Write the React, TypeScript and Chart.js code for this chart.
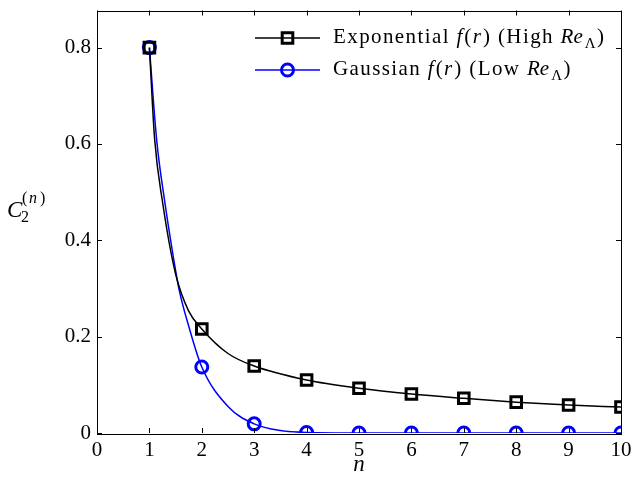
import React, { useEffect, useRef } from 'react';
import { Chart, registerables } from 'chart.js';

Chart.register(...registerables);

// ---- data ----
// markers (integer n)
const nValues = [1, 2, 3, 4, 5, 6, 7, 8, 9, 10];
const exponentialValues = [0.8, 0.216, 0.139, 0.11, 0.093, 0.081, 0.072, 0.064, 0.058, 0.054];
const gaussianValues = [0.8, 0.137, 0.019, 0.001, 0, 0, 0, 0, 0, 0];
// continuous curves
const expCurveN = [1, 1.1, 1.25, 1.5, 1.75, 2, 2.5, 3, 4, 5, 6, 7, 8, 9, 10];
const expCurveV = [0.8, 0.61, 0.48, 0.33, 0.253, 0.216, 0.165, 0.139, 0.11, 0.093, 0.081, 0.072, 0.064, 0.058, 0.054];
const gaussCurveN = [1, 1.14, 1.3, 1.45, 1.57, 1.75, 2, 2.5, 3, 3.5, 4, 5, 6, 7, 8, 9, 10];
const gaussCurveV = [0.8, 0.607, 0.475, 0.37, 0.296, 0.222, 0.137, 0.055, 0.019, 0.005, 0.001, 0, 0, 0, 0, 0, 0];

const xTicks = [0, 1, 2, 3, 4, 5, 6, 7, 8, 9, 10];
const yTicks = [0, 0.2, 0.4, 0.6, 0.8];
const yTickLabels = ['0', '0.2', '0.4', '0.6', '0.8'];
const xAxisTitle = 'n';

type Seg = { t: string; it?: boolean; sub?: boolean };
const legendExponential: Seg[] = [
  { t: 'Exponential ' }, { t: 'f', it: true }, { t: '(' }, { t: 'r', it: true }, { t: ') (High ' },
  { t: 'Re', it: true }, { t: 'Λ', sub: true }, { t: ')' },
];
const legendGaussian: Seg[] = [
  { t: 'Gaussian ' }, { t: 'f', it: true }, { t: '(' }, { t: 'r', it: true }, { t: ') (Low ' },
  { t: 'Re', it: true }, { t: 'Λ', sub: true }, { t: ')' },
];

const FONT = "'Liberation Serif', 'Times New Roman', serif";
const BLUE = '#0000ff';
const LEG_SIZE = 21;
const LEG_SPACING = 1.4;

function drawSegs(ctx: CanvasRenderingContext2D, segs: Seg[], x: number, y: number, size: number) {
  let cx = x;
  for (const s of segs) {
    (ctx as any).letterSpacing = s.it ? '0px' : `${LEG_SPACING}px`;
    if (s.sub) {
      ctx.font = `${Math.round(size * 0.72)}px ${FONT}`;
      ctx.fillText(s.t, cx, y + size * 0.22);
    } else {
      ctx.font = `${s.it ? 'italic ' : ''}${size}px ${FONT}`;
      ctx.fillText(s.t, cx, y);
    }
    cx += ctx.measureText(s.t).width + (s.it ? 2 : 0);
  }
  (ctx as any).letterSpacing = '0px';
}

const framePlugin = {
  id: 'frame',
  afterDraw(chart: any) {
    const ctx: CanvasRenderingContext2D = chart.ctx;
    const a = chart.chartArea;
    const xs = chart.scales.x;
    const ys = chart.scales.y;
    ctx.save();
    ctx.strokeStyle = '#000';
    ctx.lineWidth = 1;
    ctx.strokeRect(Math.round(a.left) + 0.5, Math.round(a.top) + 0.5, Math.round(a.right - a.left), Math.round(a.bottom - a.top));
    const tl = 5;
    ctx.beginPath();
    for (const v of xTicks) {
      const px = Math.round(xs.getPixelForValue(v)) + 0.5;
      ctx.moveTo(px, a.bottom); ctx.lineTo(px, a.bottom - tl);
      ctx.moveTo(px, a.top); ctx.lineTo(px, a.top + tl);
    }
    for (const v of yTicks) {
      const py = Math.round(ys.getPixelForValue(v)) + 0.5;
      ctx.moveTo(a.left, py); ctx.lineTo(a.left + tl, py);
      ctx.moveTo(a.right, py); ctx.lineTo(a.right - tl, py);
    }
    ctx.stroke();

    // axis titles
    ctx.fillStyle = '#000';
    ctx.textBaseline = 'alphabetic';
    ctx.textAlign = 'center';
    ctx.font = `italic 23px ${FONT}`;
    ctx.fillText(xAxisTitle, (a.left + a.right) / 2, 471);
    ctx.textAlign = 'left';
    ctx.font = `italic 23px ${FONT}`;
    ctx.fillText('C', 7, 217);
    ctx.font = `16px ${FONT}`;
    ctx.fillText('2', 21, 222);
    ctx.fillText('(', 22, 203);
    ctx.font = `italic 16px ${FONT}`;
    ctx.fillText('n', 29, 203);
    ctx.font = `16px ${FONT}`;
    ctx.fillText(')', 40, 203);

    // legend
    const rows = [
      { segs: legendExponential, color: '#000', style: 'rect', r: 7.5, y: 38 },
      { segs: legendGaussian, color: BLUE, style: 'circle', r: 6, y: 70 },
    ];
    for (const r of rows) {
      ctx.strokeStyle = r.color;
      ctx.lineWidth = 1.5;
      ctx.beginPath();
      ctx.moveTo(255, r.y); ctx.lineTo(320, r.y);
      ctx.stroke();
      ctx.lineWidth = 3;
      ctx.beginPath();
      if (r.style === 'rect') {
        const s = Math.SQRT1_2 * r.r;
        ctx.rect(287.5 - s, r.y - s, 2 * s, 2 * s);
      } else {
        ctx.arc(287.5, r.y, r.r, 0, Math.PI * 2);
      }
      ctx.stroke();
      ctx.fillStyle = '#000';
      ctx.textBaseline = 'alphabetic';
      drawSegs(ctx, r.segs, 333, r.y + 5, LEG_SIZE);
    }
    ctx.restore();
  },
};

const fixPad = (s: any) => {
  s.paddingTop = 0; s.paddingBottom = 0; s.paddingLeft = 0; s.paddingRight = 0;
};

export default function App() {
  const ref = useRef<HTMLCanvasElement>(null);
  useEffect(() => {
    if (!ref.current) return;
    const chart = new Chart(ref.current, {
      type: 'line',
      data: {
        datasets: [
          {
            label: 'exp-curve',
            data: expCurveN.map((n, i) => ({ x: n, y: expCurveV[i] })),
            borderColor: '#000',
            borderWidth: 1.5,
            pointRadius: 0,
            cubicInterpolationMode: 'monotone',
            fill: false,
          },
          {
            label: 'gauss-curve',
            data: gaussCurveN.map((n, i) => ({ x: n, y: gaussCurveV[i] })),
            borderColor: BLUE,
            borderWidth: 1.5,
            pointRadius: 0,
            cubicInterpolationMode: 'monotone',
            fill: false,
          },
          {
            label: 'Exponential f(r) (High Re_Λ)',
            data: nValues.map((n, i) => ({ x: n, y: exponentialValues[i] })),
            showLine: false,
            pointStyle: 'rect',
            pointRadius: 7.5,
            pointBorderWidth: 3,
            pointBorderColor: '#000',
            pointBackgroundColor: 'rgba(0,0,0,0)',
          },
          {
            label: 'Gaussian f(r) (Low Re_Λ)',
            data: nValues.map((n, i) => ({ x: n, y: gaussianValues[i] })),
            showLine: false,
            pointStyle: 'circle',
            pointRadius: 6,
            pointBorderWidth: 3,
            pointBorderColor: BLUE,
            pointBackgroundColor: 'rgba(0,0,0,0)',
          },
        ],
      },
      options: {
        responsive: false,
        animation: false,
        layout: { padding: { top: 10, right: 13, left: 0, bottom: 0 } },
        plugins: { legend: { display: false }, tooltip: { enabled: false } },
        scales: {
          x: {
            type: 'linear',
            min: 0,
            max: 10,
            grid: { display: false, drawTicks: false },
            border: { display: false },
            afterFit: (s: any) => { s.height = 44; fixPad(s); },
            afterBuildTicks: (s: any) => { s.ticks = xTicks.map((v) => ({ value: v })); },
            ticks: {
              color: '#000',
              padding: 5,
              maxRotation: 0,
              font: { family: FONT, size: 21 },
              callback: (v: any) => String(v),
            },
          },
          y: {
            type: 'linear',
            min: 0,
            max: 0.877,
            grid: { display: false, drawTicks: false },
            border: { display: false },
            afterFit: (s: any) => { s.width = 97; fixPad(s); },
            afterBuildTicks: (s: any) => { s.ticks = yTicks.map((v) => ({ value: v })); },
            ticks: {
              color: '#000',
              padding: 6,
              font: { family: FONT, size: 21 },
              callback: (v: any) => yTickLabels[yTicks.indexOf(Number(v))] ?? '',
            },
          },
        },
      },
      plugins: [framePlugin],
    });
    return () => chart.destroy();
  }, []);
  return (
    <div style={{ position: 'absolute', left: 0, top: 0, width: 634, height: 477, background: '#fff' }}>
      <canvas ref={ref} width={634} height={477} />
    </div>
  );
}
